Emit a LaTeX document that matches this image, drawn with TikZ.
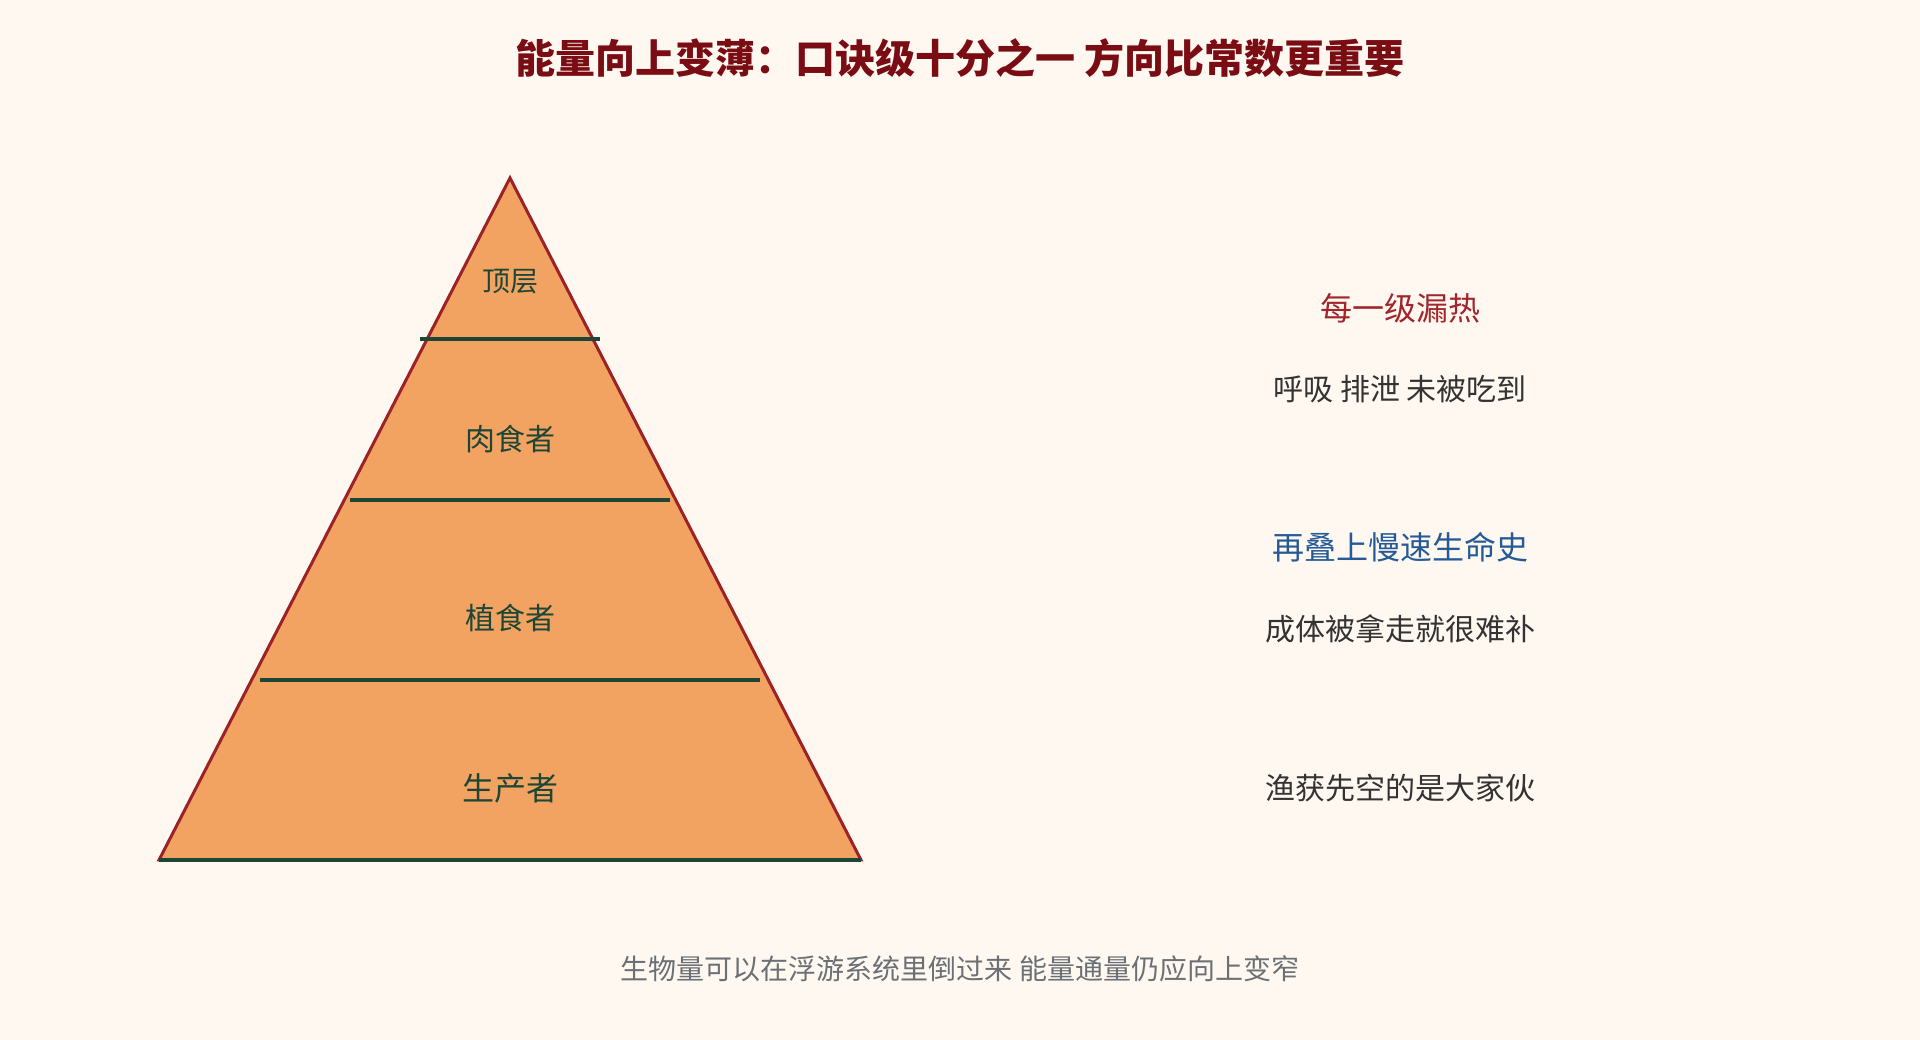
\documentclass[tikz,border=0pt]{standalone}
\usepackage{fontspec}
\setmainfont{Noto Sans CJK SC}
\definecolor{bgColor}{HTML}{FFF8F1}
\definecolor{fillColor}{HTML}{F2A361}
\definecolor{edgeColor}{HTML}{9B2226}
\definecolor{bandColor}{HTML}{1E4636}
\definecolor{titleColor}{HTML}{7A0C13}
\definecolor{leakColor}{HTML}{A1262B}
\definecolor{lifeColor}{HTML}{245A96}
\definecolor{bodyColor}{HTML}{333333}
\definecolor{noteColor}{HTML}{6B7075}
\newcommand{\pxfont}[1]{\fontsize{#1}{#1}\selectfont}

\begin{document}
\begin{tikzpicture}
\tikzset{x=1pt,y=1pt}
\clip (0,0) rectangle (1920, 1040);
\fill[bgColor] (0,0) rectangle (1920, 1040);
\node[color=titleColor, anchor=center, font=\pxfont{40}\bfseries] (title) at (960, 982) {能量向上变薄：口诀级十分之一 方向比常数更重要};
% pyramid
\coordinate (apex) at (510, 862);
\coordinate (baseL) at (159, 180);
\coordinate (baseR) at (861, 180);
\draw[line width=3pt, color=edgeColor, fill=fillColor, line join=miter] (apex) -- (baseL) -- (baseR) -- cycle;
\draw[line width=4pt, color=bandColor] (420, 700.5) -- (600, 700.5);
\draw[line width=4pt, color=bandColor] (350, 540) -- (670, 540);
\draw[line width=4pt, color=bandColor] (260, 360) -- (760, 360);
\draw[line width=4pt, color=bandColor] (baseL) -- (baseR);
\node[color=bandColor, anchor=center, font=\pxfont{28}] (apexTier) at (510, 758) {顶层};
\node[color=bandColor, anchor=center, font=\pxfont{30}] (carnTier) at (510, 601) {肉食者};
\node[color=bandColor, anchor=center, font=\pxfont{30}] (herbTier) at (510, 422) {植食者};
\node[color=bandColor, anchor=center, font=\pxfont{32}] (prodTier) at (510, 252) {生产者};
% notes on the right
\node[color=leakColor, anchor=center, font=\pxfont{32}] (leakHead) at (1400, 732) {每一级漏热};
\node[color=bodyColor, anchor=center, font=\pxfont{30}] (leakText) at (1400, 651) {呼吸 排泄 未被吃到};
\node[color=lifeColor, anchor=center, font=\pxfont{32}] (lifeHead) at (1400, 493) {再叠上慢速生命史};
\node[color=bodyColor, anchor=center, font=\pxfont{30}] (lifeText) at (1400, 411) {成体被拿走就很难补};
\node[color=bodyColor, anchor=center, font=\pxfont{30}] (fishText) at (1400, 252) {渔获先空的是大家伙};
\node[color=noteColor, anchor=center, font=\pxfont{28}] (footNote) at (960, 71) {生物量可以在浮游系统里倒过来 能量通量仍应向上变窄};
\end{tikzpicture}
\end{document}
